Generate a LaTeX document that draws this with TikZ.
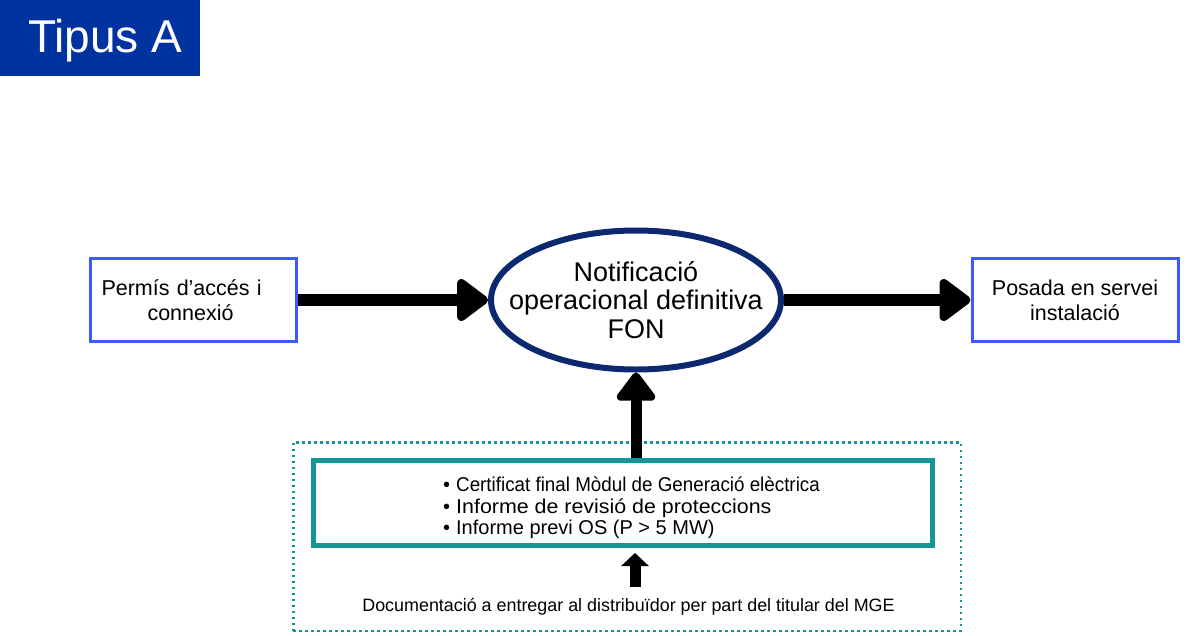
\documentclass[tikz,border=0pt]{standalone}
\usepackage{fontspec}
\setmainfont{Liberation Sans}
\usetikzlibrary{arrows.meta,shapes.geometric}
\definecolor{titleblue}{RGB}{0,51,160}
\definecolor{boxblue}{RGB}{60,90,255}
\definecolor{navy}{RGB}{12,40,110}
\definecolor{tealc}{RGB}{20,150,150}
\begin{document}
\begin{tikzpicture}[x=1pt,y=-1pt,
  bluebox/.style={draw=boxblue,line width=3pt,minimum width=206pt,minimum height=83pt,inner sep=0pt},
  bigarrow/.style={line width=12pt,-{Triangle[length=34pt,width=48pt,round]}},
  uparrow/.style={line width=11pt,-{Triangle[length=31pt,width=44pt,round]}},
  smallarrow/.style={line width=11pt,-{Triangle[length=13pt,width=27pt]}},
  f21/.style={font=\fontsize{21.5}{25}\selectfont},
]
\useasboundingbox (0,0) rectangle (1200,635);
% title
\node[fill=titleblue,text=white,anchor=north west,minimum width=200pt,minimum height=76pt,
  inner sep=0pt,text height=35.5pt,text depth=7.2pt,font=\fontsize{46}{50}\selectfont]
  (title) at (0,0) {\hspace*{10pt}Tipus A};
% boxes
\node[bluebox,f21,text width=184pt,align=left] (perm) at (193.5,300)
  {Permís d’accés i\\\hspace*{46pt}connexió};
\node[bluebox,f21,align=center] (pos) at (1075,300) {Posada en servei\\instalació};
\node[ellipse,draw=navy,line width=6pt,minimum width=290pt,minimum height=139pt,inner sep=0pt,
  align=center,font=\fontsize{27}{28.5}\selectfont] (fon) at (636,300)
  {\makebox[0pt]{Notificació}\\\makebox[0pt]{operacional definitiva}\\\makebox[0pt]{FON}};
% lower group
\node[draw=tealc,line width=2.5pt,dash pattern=on 2.5pt off 3.5pt,minimum width=667.5pt,
  minimum height=188.5pt,inner sep=0pt] (dots) at (627,536.5) {};
\node[draw=tealc,line width=5pt,minimum width=619pt,minimum height=85pt,inner sep=0pt]
  (tbox) at (623,503) {};
\node[anchor=west,align=left,inner sep=0pt,font=\fontsize{20}{21.5}\selectfont] (items) at (443,508)
  {\makebox[13pt][l]{•}\scalebox{0.94}[1]{Certificat final Mòdul de Generació elèctrica}\\
   \makebox[13pt][l]{•}\scalebox{1.07}[1]{Informe de revisió de proteccions}\\
   \makebox[13pt][l]{•}Informe previ OS (P > 5 MW)};
\node[anchor=base,inner sep=0pt,font=\fontsize{17.9}{20}\selectfont] (doc) at (628.5,611)
  {Documentació a entregar al distribuïdor per part del titular del MGE};
\coordinate (sa1) at (635,587);
\coordinate (sa2) at (635,553);
% connectors
\draw[bigarrow] (perm.east) -- (fon.west);
\draw[bigarrow] (fon.east) -- (pos.west);
\draw[uparrow] (tbox.north -| fon.south) -- (fon.south);
\draw[smallarrow] (sa1) -- (sa2);
\end{tikzpicture}
\end{document}
